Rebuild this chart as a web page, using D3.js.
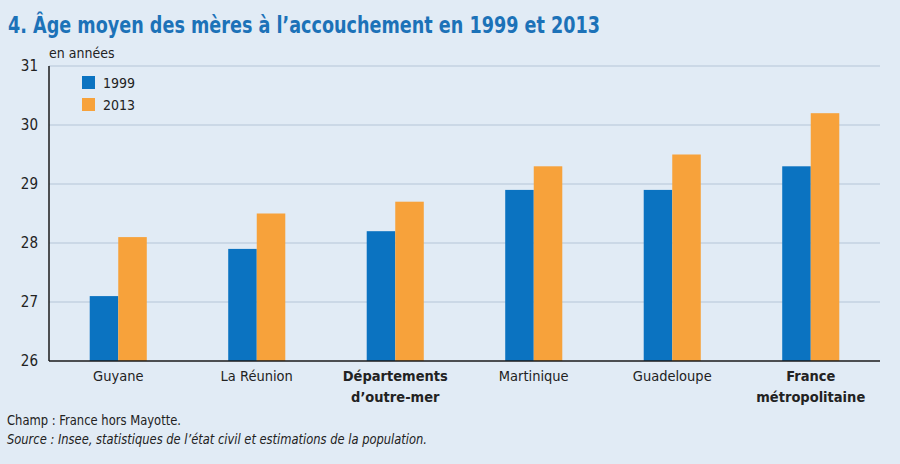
<!DOCTYPE html>
<html><head><meta charset="utf-8">
<script src="https://cdn.jsdelivr.net/npm/d3@7"></script>
<style>
body{margin:0;background:#e1ebf5;}
svg{display:block;}
text{font-family:"Liberation Sans Narrow","DejaVu Sans Condensed","Roboto Condensed",sans-serif;}
</style></head><body>
<svg id="c" width="900" height="464"></svg>
<script>
const categories = ["Guyane","La Réunion","Départements d’outre-mer","Martinique","Guadeloupe","France métropolitaine"];
const boldCats = ["Départements d’outre-mer","France métropolitaine"];
const labelLines = [["Guyane"],["La Réunion"],["Départements","d’outre-mer"],["Martinique"],["Guadeloupe"],["France","métropolitaine"]];
const series = ["1999","2013"];
const values1999 = [27.1,27.9,28.2,28.9,28.9,29.3];
const values2013 = [28.1,28.5,28.7,29.3,29.5,30.2];
const yTicks = [26,27,28,29,30,31];
const colors = ["#0b73c1","#f7a23b"];

const svg = d3.select("#c");
svg.append("rect").attr("width",900).attr("height",464).attr("fill","#e1ebf5");
const pL=49,pR=880,pT=66,pB=361;
const x = d3.scaleBand().domain(categories).range([pL,pR]).paddingInner(0.588).paddingOuter(0.294);
const xs = d3.scaleBand().domain(series).range([0,x.bandwidth()]);
const y = d3.scaleLinear().domain([26,31]).range([pB,pT]);

svg.append("text").attr("x",8).attr("y",33).attr("fill","#1c72b8").attr("font-size",23).attr("font-weight","bold")
 .attr("textLength",592).attr("lengthAdjust","spacingAndGlyphs")
 .text("4. Âge moyen des mères à l’accouchement en 1999 et 2013");

// grid
svg.append("g").selectAll("line").data(yTicks.filter(d=>d>26)).join("line")
 .attr("x1",pL).attr("x2",pR).attr("y1",d=>y(d)).attr("y2",d=>y(d))
 .attr("stroke","#c3d2e0").attr("stroke-width",1.5);

// y axis labels
const ya = svg.append("g").attr("transform",`translate(${pL},0)`)
 .call(d3.axisLeft(y).tickValues(yTicks).tickSize(0).tickPadding(11).tickFormat(d3.format("d")));
ya.select(".domain").remove();
ya.selectAll("text").attr("font-size",15).attr("fill","#222").style("font-family","'Liberation Sans Narrow','DejaVu Sans Condensed',sans-serif");

svg.append("text").attr("x",49).attr("y",58).attr("font-size",14).attr("fill","#222").text("en années");

const data = categories.map((c,i)=>({c, v:[values1999[i],values2013[i]]}));
const g = svg.append("g");
g.selectAll("g").data(data).join("g").attr("transform",d=>`translate(${x(d.c)},0)`)
 .selectAll("rect").data(d=>d.v.map((v,j)=>({s:series[j],v,j}))).join("rect")
 .attr("x",d=>xs(d.s)).attr("width",xs.bandwidth()).attr("y",d=>y(d.v)).attr("height",d=>y(26)-y(d.v))
 .attr("fill",d=>colors[d.j]);

// axes lines
svg.append("line").attr("x1",pL).attr("x2",pL).attr("y1",pT).attr("y2",pB).attr("stroke","#1a1a1a").attr("stroke-width",1.5);
svg.append("line").attr("x1",pL).attr("x2",pR).attr("y1",pB).attr("y2",pB).attr("stroke","#1a1a1a").attr("stroke-width",1.5);

// x labels
const xl = svg.append("g");
categories.forEach((c,i)=>{
  const t = xl.append("text").attr("x",x(c)+x.bandwidth()/2).attr("y",381).attr("text-anchor","middle")
   .attr("font-size",14.5).attr("fill","#222").attr("font-weight",boldCats.includes(c)?"bold":"normal");
  labelLines[i].forEach((l,k)=>t.append("tspan").attr("x",x(c)+x.bandwidth()/2).attr("dy",k?21:0).text(l));
});

// legend
const lg = svg.append("g");
series.forEach((s,i)=>{
  lg.append("rect").attr("x",82).attr("y",76+i*22).attr("width",13).attr("height",13).attr("fill",colors[i]);
  lg.append("text").attr("x",103).attr("y",88+i*22).attr("font-size",14).attr("fill","#222").text(s);
});

svg.append("text").attr("x",7).attr("y",425).attr("font-size",14).attr("fill","#222")
 .attr("textLength",174).attr("lengthAdjust","spacingAndGlyphs").text("Champ : France hors Mayotte.");
svg.append("text").attr("x",7).attr("y",444).attr("font-size",14).attr("fill","#222").attr("font-style","italic")
 .attr("textLength",420).attr("lengthAdjust","spacingAndGlyphs")
 .text("Source : Insee, statistiques de l’état civil et estimations de la population.");
</script></body></html>
